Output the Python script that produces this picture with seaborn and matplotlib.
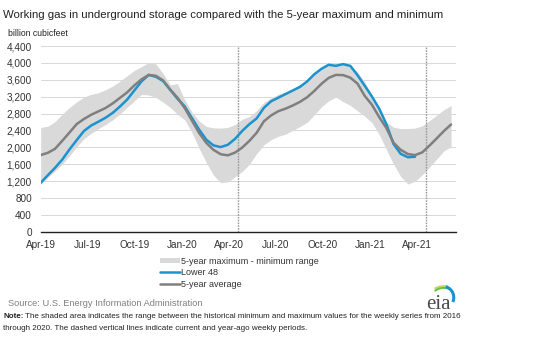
import numpy as np
import pandas as pd
import matplotlib
matplotlib.use("Agg")
import matplotlib.pyplot as plt
import matplotlib.dates as mdates
from matplotlib.patches import Patch, Arc
from matplotlib.lines import Line2D
import seaborn as sns

# Biweekly sample dates for the storage series (billion cubic feet)
band_dates = pd.date_range("2019-04-01", periods=58, freq="14D")

band_max = [2470, 2500, 2610, 2785, 2945, 3075, 3190, 3255, 3290, 3365,
            3450, 3565, 3695, 3820, 3910, 4010, 3975, 3745, 3480, 3510,
            3125, 2835, 2625, 2495, 2460, 2455, 2470, 2540, 2665, 2730,
            2870, 3065, 3170, 3255, 3310, 3385, 3480, 3595, 3760, 3880,
            3955, 3985, 3995, 3945, 3785, 3550, 3235, 2870, 2605, 2475,
            2445, 2445, 2455, 2510, 2630, 2760, 2890, 2990]

band_min = [1120, 1290, 1440, 1600, 1800, 2010, 2200, 2330, 2440, 2540,
            2650, 2790, 2950, 3100, 3250, 3240, 3180, 3070, 2945, 2780,
            2650, 2355, 1975, 1640, 1340, 1160, 1180, 1300, 1430, 1600,
            1850, 2060, 2180, 2260, 2310, 2400, 2490, 2590, 2770, 2960,
            3100, 3190, 3080, 2995, 2865, 2735, 2585, 2310, 1950, 1605,
            1310, 1130, 1195, 1350, 1530, 1720, 1915, 2010]

avg_5yr = [1815, 1870, 1965, 2155, 2350, 2550, 2670, 2770, 2850, 2930,
           3040, 3170, 3300, 3465, 3610, 3715, 3695, 3585, 3365, 3175,
           2930, 2635, 2340, 2105, 1940, 1835, 1810, 1875, 1995, 2155,
           2345, 2615, 2755, 2855, 2915, 2990, 3075, 3185, 3335, 3505,
           3645, 3715, 3710, 3650, 3510, 3220, 3010, 2720, 2460, 2110,
           1940, 1840, 1815, 1880, 2040, 2210, 2385, 2540]

lower48 = [1160, 1340, 1515, 1710, 1950, 2170, 2385, 2515, 2605, 2700,
           2815, 2965, 3130, 3345, 3560, 3715, 3670, 3570, 3360, 3150,
           2970, 2695, 2420, 2180, 2045, 2005, 2060, 2200, 2390, 2550,
           2685, 2935, 3090, 3175, 3260, 3345, 3430, 3560, 3730, 3860,
           3955, 3930, 3970, 3930, 3710, 3460, 3205, 2920, 2555, 2080,
           1845, 1765, 1775]
lower48_dates = band_dates[:len(lower48)]

# Current and year-ago report weeks
marker_weeks = ["2020-04-19", "2021-04-20"]

tick_dates = pd.date_range("2019-04-01", "2021-04-01", freq="3MS")
y_ticks = list(range(0, 4401, 400))

title = "Working gas in underground storage compared with the 5-year maximum and minimum"
unit_label = "billion cubicfeet"
legend_labels = ["5-year maximum - minimum range", "Lower 48", "5-year average"]
source_text = "Source: U.S. Energy Information Administration"
note_lines = ["The shaded area indicates the range between the historical minimum and maximum values for the weekly series from 2016",
              "through 2020. The dashed vertical lines indicate current and year-ago weekly periods."]

BAND = "#d9d9d9"
BLUE = "#1a93cf"
GRAY = "#7f7f7f"

sns.set_style("white")
plt.rcParams["font.family"] = ["Liberation Sans", "DejaVu Sans"]

W, H = 534, 346
fig = plt.figure(figsize=(W / 100, H / 100), dpi=100)
ax = fig.add_axes([40.7 / W, 1 - 231.7 / H, 415.0 / W, 185.7 / H])

ax.fill_between(band_dates, band_min, band_max, color=BAND, lw=0, zorder=2)
for wk in marker_weeks:
    ax.axvline(pd.Timestamp(wk), color="#9a9a9a", lw=1.0, ls=(0, (1.2, 0.8)), zorder=3)
sns.lineplot(x=lower48_dates, y=lower48, ax=ax, color=BLUE, lw=1.8, zorder=4)
sns.lineplot(x=band_dates, y=avg_5yr, ax=ax, color=GRAY, lw=1.8, zorder=5)

ax.set_xlim(pd.Timestamp("2019-04-01"), pd.Timestamp("2021-06-16"))
ax.set_ylim(0, 4400)
ax.set_yticks(y_ticks)
ax.set_yticklabels([f"{v:,}" for v in y_ticks])
ax.set_xticks(tick_dates)
ax.xaxis.set_major_formatter(mdates.DateFormatter("%b-%y"))
ax.set_xlabel("")
ax.set_ylabel("")
ax.yaxis.grid(True, color="#d8d8d8", lw=0.7)
ax.set_axisbelow(True)
for side in ("left", "right", "top"):
    ax.spines[side].set_visible(False)
ax.spines["bottom"].set_color("#222222")
ax.spines["bottom"].set_linewidth(1.0)
ax.spines["bottom"].set_zorder(6)
ax.tick_params(axis="x", direction="inout", length=5, width=0.8, color="#222222",
               labelsize=7.2, labelcolor="#333333", pad=3.2)
ax.tick_params(axis="y", length=0, labelsize=7.2, labelcolor="#333333", pad=6.3)

fig.text(3 / W, 1 - 15 / H, title, fontsize=8.2, color="#222222", ha="left", va="center")
fig.text(8 / W, 1 - 34 / H, unit_label, fontsize=6.2, color="#222222", ha="left", va="center")

handles = [Patch(facecolor=BAND, edgecolor="none"),
           Line2D([], [], color=BLUE, lw=1.8),
           Line2D([], [], color=GRAY, lw=1.8)]
fig.legend(handles, legend_labels, loc="upper left", bbox_to_anchor=(160 / W, 1 - 256.5 / H),
           frameon=False, fontsize=6.5, handlelength=2.2, handleheight=0.5,
           handletextpad=0.1, labelspacing=0.28, borderaxespad=0, borderpad=0,
           labelcolor="#333333")

fig.text(8 / W, 1 - 303 / H, source_text, fontsize=6.7, color="#808080", ha="left", va="center")

renderer = fig.canvas.get_renderer()
note_lbl = fig.text(3 / W, 1 - 317 / H, "Note:", fontsize=5.8, fontweight="bold",
                    color="#222222", ha="left", va="center")
bb = note_lbl.get_window_extent(renderer)
fig.text((bb.x1 + 2) / W, 1 - 317 / H, note_lines[0], fontsize=5.8, color="#222222",
         ha="left", va="center")
fig.text(3 / W, 1 - 329 / H, note_lines[1], fontsize=5.8, color="#222222",
         ha="left", va="center")

# eia logo
lax = fig.add_axes([424 / W, 1 - 311 / H, 32 / W, 30 / H])
lax.set_xlim(0, 1)
lax.set_ylim(0, 1)
lax.axis("off")
lax.text(0.45, 0.22, "eia", fontsize=15, family=["Liberation Serif", "DejaVu Serif"],
         color="#4a4a4a", ha="center", va="center")
lax.add_patch(Arc((0.62, 0.45), 0.9, 0.75, theta1=70, theta2=135, color="#c8d85a", lw=1.6))
lax.add_patch(Arc((0.62, 0.42), 0.8, 0.7, theta1=60, theta2=140, color="#6cc04a", lw=1.4))
lax.add_patch(Arc((0.58, 0.45), 0.7, 0.75, theta1=-25, theta2=75, color="#1a93cf", lw=2.2))

fig.savefig("out.png", dpi=100)
